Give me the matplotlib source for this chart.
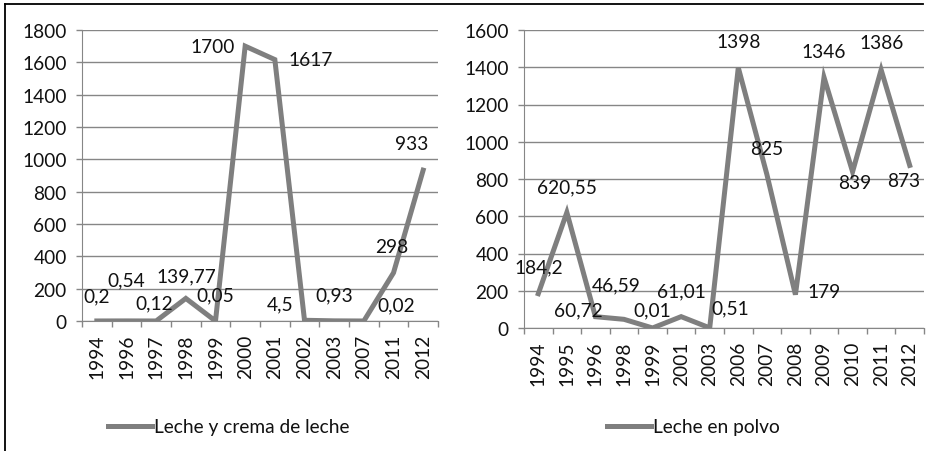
import matplotlib
matplotlib.use('Agg')
import matplotlib.pyplot as plt
from matplotlib.lines import Line2D

plt.rcParams['font.family'] = ['Lato', 'DejaVu Sans']

# datos de los dos graficos
anios_crema = ['1994', '1996', '1997', '1998', '1999', '2000', '2001',
               '2002', '2003', '2007', '2011', '2012']
valores_crema = [0.2, 0.54, 0.12, 139.77, 0.05, 1700, 1617, 4.5, 0.93,
                 0.02, 298, 933]

anios_polvo = ['1994', '1995', '1996', '1998', '1999', '2001', '2003',
               '2006', '2007', '2008', '2009', '2010', '2011', '2012']
valores_polvo = [184.2, 620.55, 60.72, 46.59, 0.01, 61.01, 0.51, 1398, 825,
                 179, 1346, 839, 1386, 873]

# desplazamiento de cada etiqueta (pixeles)
desp_crema = [(0, 25), (0, 41), (-2, 18), (0, 23), (0, 26), (-33, 0),
              (36, 0), (-24, 16), (0, 26), (32, 16), (-2, 26), (-11, 27)]
desp_polvo = [(0, 27), (0, 26), (-17, 7), (-8, 34), (0, 18), (0, 26),
              (21, 20), (0, 26), (0, 26), (29, 3), (0, 26), (2, -11),
              (0, 27), (-6, -15)]

GRIS = '#7f7f7f'
FS = 13.8


def etiqueta(v):
    return ('%g' % v).replace('.', ',')


def dibuja(ax, anios, valores, desp, ymax, nombre, leg_x):
    x = list(range(len(anios)))
    ax.plot(x, valores, color=GRIS, lw=3.6, solid_joinstyle='miter', label=nombre)
    ax.set_xlim(-0.5, len(anios) - 0.5)
    ax.set_ylim(0, ymax)
    ax.set_yticks(range(0, ymax + 1, 200))
    ax.set_xticks(x)
    ax.set_xticklabels(anios, rotation=90)
    ax.set_xticks([i - 0.5 for i in range(len(anios) + 1)], minor=True)
    ax.tick_params(axis='x', which='major', length=0, pad=9, labelsize=FS,
                   labelcolor='#111111')
    ax.tick_params(axis='x', which='minor', length=4, color='#868686', width=1)
    ax.tick_params(axis='y', length=4, color='#868686', width=1, pad=7,
                   labelsize=FS, labelcolor='#111111')
    ax.yaxis.grid(True, color='#868686', lw=1)
    ax.set_axisbelow(True)
    for s in ['top', 'right']:
        ax.spines[s].set_visible(False)
    ax.spines['bottom'].set_color('#868686')
    ax.spines['left'].set_color('#868686')
    for xi, v, d in zip(x, valores, desp):
        ax.annotate(etiqueta(v), (xi, v), xytext=d, textcoords='offset pixels',
                    ha='center', va='center', fontsize=FS, color='#111111')
    ax.legend(loc='center left', bbox_to_anchor=(leg_x, 1 - 428 / 452),
              bbox_transform=fig.transFigure, frameon=False, fontsize=FS,
              borderpad=0, borderaxespad=0, handlelength=2.3, handletextpad=0.12,
              labelcolor='#111111')


fig = plt.figure(figsize=(9.27, 4.52), dpi=100)
ax1 = fig.add_axes([82 / 927, 1 - 322 / 452, 356 / 927, 291 / 452])
ax2 = fig.add_axes([524 / 927, 1 - 329 / 452, 400 / 927, 298 / 452])

dibuja(ax1, anios_crema, valores_crema, desp_crema, 1800,
       'Leche y crema de leche', 108 / 927)
dibuja(ax2, anios_polvo, valores_polvo, desp_polvo, 1600,
       'Leche en polvo', 607 / 927)

# marco
fig.add_artist(Line2D([5 / 927, 923 / 927], [1 - 5 / 452, 1 - 5 / 452],
                      transform=fig.transFigure, color='black', lw=1.3))
fig.add_artist(Line2D([5 / 927, 5 / 927], [1 - 5 / 452, 0],
                      transform=fig.transFigure, color='black', lw=1.3))

fig.savefig('out.png', dpi=100)
